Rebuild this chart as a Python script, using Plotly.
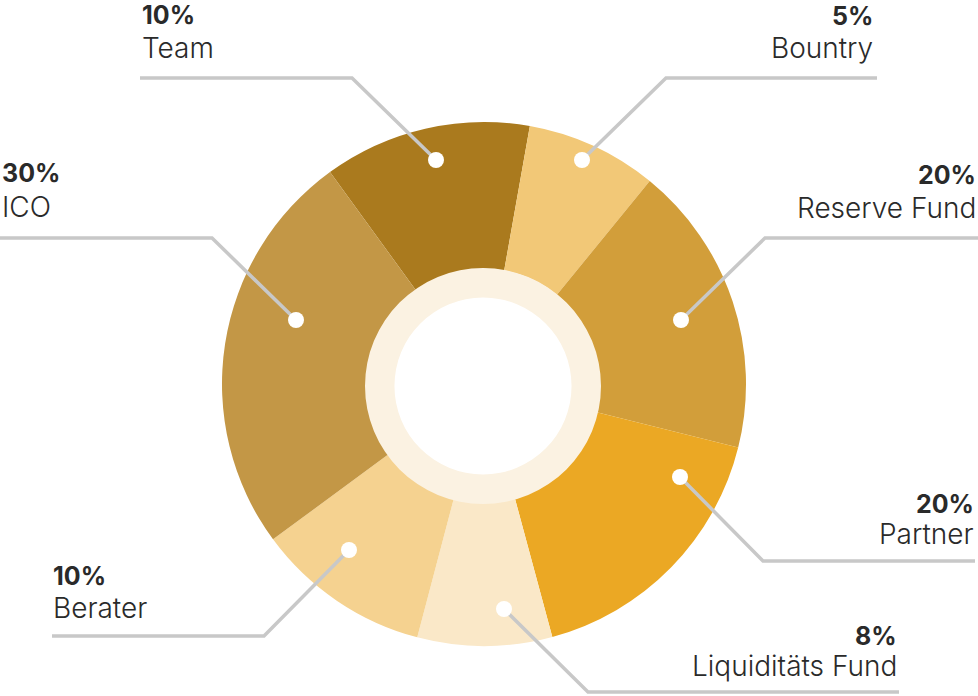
import plotly.graph_objects as go

# ---- data ----
categories = ["Team", "Bountry", "Reserve Fund", "Partner", "Liquiditäts Fund", "Berater", "ICO"]
label_pct = ["10%", "5%", "20%", "20%", "8%", "10%", "30%"]
# slice shares as drawn in the picture (percent of the circle)
slice_share = [12.8, 8.1, 18.0, 16.9, 8.3, 10.8, 25.1]
colors = ["#AA7A1E", "#F2C877", "#D29E3A", "#EBA824", "#FAE8C8", "#F5D290", "#C39746"]

W, H = 978, 696

# callout decoration geometry (pixel space): dot, elbow, line end, text anchor
callouts = [
    # dot,        elbow,      end,        text x, align,  pct y, name y
    ((436, 160), (352, 78), (140, 78), 140, "left", 15.0, 47.5),
    ((582, 160), (666, 78), (877, 78), 875, "right", 15.5, 48.0),
    ((681, 320), (765, 238), (978, 238), 978, "right", 175.0, 208.0),
    ((680, 477), (763, 561), (975, 561), 976, "right", 504.0, 533.5),
    ((504, 609), (588, 692), (899, 692), 899, "right", 636.0, 666.0),
    ((349, 550), (264, 636), (52, 636), 51, "left", 576.0, 607.5),
    ((296, 320), (212, 238), (0, 238), 0, "left", 173.0, 207.0),
]

fig = go.Figure()

# main donut
fig.add_trace(go.Pie(
    labels=categories, values=slice_share, sort=False, direction="clockwise",
    rotation=-36, hole=0.44,
    marker=dict(colors=colors, line=dict(width=0)),
    textinfo="none", hoverinfo="label", showlegend=False,
    domain=dict(x=[222 / W, 746 / W], y=[(H - 646) / H, (H - 122) / H]),
))
# inner cream ring
fig.add_trace(go.Pie(
    labels=["ring"], values=[1], sort=False, hole=0.75,
    marker=dict(colors=["#FBF2E2"], line=dict(width=0)),
    textinfo="none", hoverinfo="skip", showlegend=False,
    domain=dict(x=[365 / W, 601 / W], y=[(H - 504) / H, (H - 268) / H]),
))

shapes = []
for dot, elbow, end, *_ in callouts:
    shapes.append(dict(
        type="path", xref="x", yref="y", layer="above",
        path=f"M {dot[0]},{dot[1]} L {elbow[0]},{elbow[1]} L {end[0]},{end[1]}",
        line=dict(color="#C8C8C8", width=3.5),
    ))
for dot, *_ in callouts:
    r = 8
    shapes.append(dict(
        type="circle", xref="x", yref="y", layer="above",
        x0=dot[0] - r, x1=dot[0] + r, y0=dot[1] - r, y1=dot[1] + r,
        fillcolor="white", line=dict(width=0),
    ))

annotations = []
for (dot, elbow, end, tx, align, py, ny), name, pct in zip(callouts, categories, label_pct):
    annotations.append(dict(
        x=tx, y=py, xref="x", yref="y", text="<b>" + pct + "</b>", showarrow=False,
        xanchor=align, yanchor="middle", align=align,
        font=dict(family="Inter", size=25, color="#2A2A2A"),
    ))
    annotations.append(dict(
        x=tx, y=ny, xref="x", yref="y", text=name, showarrow=False,
        xanchor=align, yanchor="middle", align=align,
        font=dict(family="Inter", size=28, color="#2A2A2A", weight=300),
    ))

fig.update_layout(
    width=W, height=H, margin=dict(l=0, r=0, t=0, b=0),
    paper_bgcolor="white", plot_bgcolor="rgba(0,0,0,0)",
    xaxis=dict(range=[0, W], visible=False, fixedrange=True),
    yaxis=dict(range=[H, 0], visible=False, fixedrange=True),
    annotations=annotations, shapes=shapes,
)

fig.write_html("out.html")
